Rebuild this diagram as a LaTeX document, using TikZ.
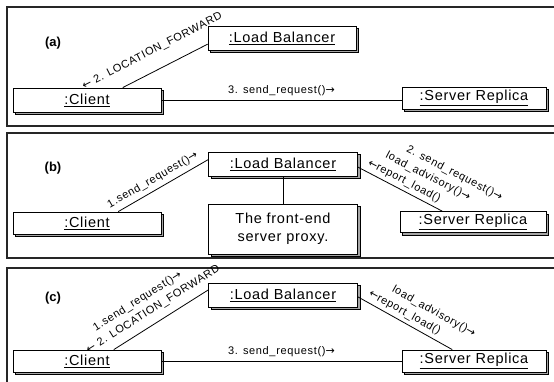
\documentclass[tikz,border=0pt]{standalone}
\usepackage{fontspec}
\setmainfont{Liberation Sans}
\newfontfamily\boxf[LetterSpace=5]{Liberation Sans}
\newfontfamily\labf[LetterSpace=6]{Liberation Sans}
\newfontfamily\arrf{DejaVu Sans}
\usetikzlibrary{shadows,calc}
\newcommand\myra{{\arrf →}}
\newcommand\myla{{\arrf ←}}
\begin{document}
\begin{tikzpicture}[x=1pt,y=-1pt,
  obj/.style={draw=black, line width=0.8pt, fill=white, inner sep=0pt,
    font=\boxf\fontsize{14.5}{17}\selectfont,
    drop shadow={shadow xshift=2.5pt, shadow yshift=-2.5pt, opacity=1, fill=black!35, draw=black, line width=0.6pt}},
  panel/.style={draw=black!85, line width=1.3pt},
  plabel/.style={font=\bfseries\fontsize{13}{15}\selectfont},
  msg/.style={font=\labf\fontsize{11}{12}\selectfont, inner sep=0.5pt, sloped},
  conn/.style={line width=0.8pt}]
\useasboundingbox (0,0) rectangle (554,382);
% panels
\draw[panel] (7,7) rectangle (557,126);
\draw[panel] (7,133) rectangle (557,258);
\draw[panel] (7,268) rectangle (557,386);
\node[plabel] (pa) at (53,43) {(a)};
\node[plabel] (pb) at (53,168) {(b)};
\node[plabel] (pc) at (53,298) {(c)};
% ---------- (a)
\node[obj, minimum width=148pt, minimum height=24pt] (lba) at (282,38) {\underline{:Load Balancer}};
\node[obj, minimum width=148pt, minimum height=24pt] (cla) at (87,100) {\underline{:Client}};
\node[obj, minimum width=144pt, minimum height=22pt] (sra) at (474,98) {\underline{:Server Replica}};
\draw[conn] ($(cla.north west)!0.74!(cla.north east)$) -- ($(lba.west)!0.5!(lba.south west)$)
  node[msg, pos=0.45, above=13pt] (la1) {\myla\ 2. LOCATION\_FORWARD};
\draw[conn] (cla.east) -- (cla.east -| sra.west)
  node[msg, midway, above=3pt] (la2) {3. send\_request()\myra};
% ---------- (b)
\node[obj, minimum width=149pt, minimum height=24pt] (lbb) at (283,164) {\underline{:Load Balancer}};
\node[obj, minimum width=148pt, minimum height=22pt] (clb) at (87,223) {\underline{:Client}};
\node[obj, minimum width=149pt, minimum height=50pt, align=center] (nb) at (283,229) {The front-end\\[1pt]server proxy.};
\node[obj, minimum width=146pt, minimum height=21pt] (srb) at (473,222) {\underline{:Server Replica}};
\draw[conn] ($(clb.north west)!0.71!(clb.north east)$) -- ($(lbb.west)!0.35!(lbb.north west)$)
  node[msg, pos=0.44, above=4pt] (lb1) {1.send\_request()\myra};
\draw[conn] ($(lbb.east)!0.25!(lbb.south east)$) -- ($(srb.north west)!0.29!(srb.north east)$)
  node[msg, pos=0.5, above=3pt] (lb2) {\myla report\_load()}
  node[msg, pos=0.7, above=18pt] (lb3) {load\_advisory()\myra}
  node[msg, pos=0.93, above=33pt] (lb4) {2. send\_request()\myra};
\draw[conn] (lbb.south) -- (nb.north);
% ---------- (c)
\node[obj, minimum width=149pt, minimum height=24pt] (lbc) at (283,295) {\underline{:Load Balancer}};
\node[obj, minimum width=148pt, minimum height=22pt] (clc) at (87,361) {\underline{:Client}};
\node[obj, minimum width=144pt, minimum height=22pt] (src) at (474,361) {\underline{:Server Replica}};
\draw[conn] ($(clc.north west)!0.68!(clc.north east)$) -- ($(lbc.west)!0.4!(lbc.north west)$)
  node[msg, pos=0.49, above=7pt] (lc1) {\myla\ 2. LOCATION\_FORWARD}
  node[msg, pos=0.41, above=22pt] (lc2) {1.send\_request()\myra};
\draw[conn] ($(lbc.east)!0.15!(lbc.south east)$) -- ($(src.north west)!0.35!(src.north east)$)
  node[msg, pos=0.45, above=3pt] (lc3) {\myla report\_load()}
  node[msg, pos=0.68, above=18pt] (lc4) {load\_advisory()\myra};
\draw[conn] (clc.east) -- (clc.east -| src.west)
  node[msg, midway, above=3pt] (lc5) {3. send\_request()\myra};
\end{tikzpicture}
\end{document}
